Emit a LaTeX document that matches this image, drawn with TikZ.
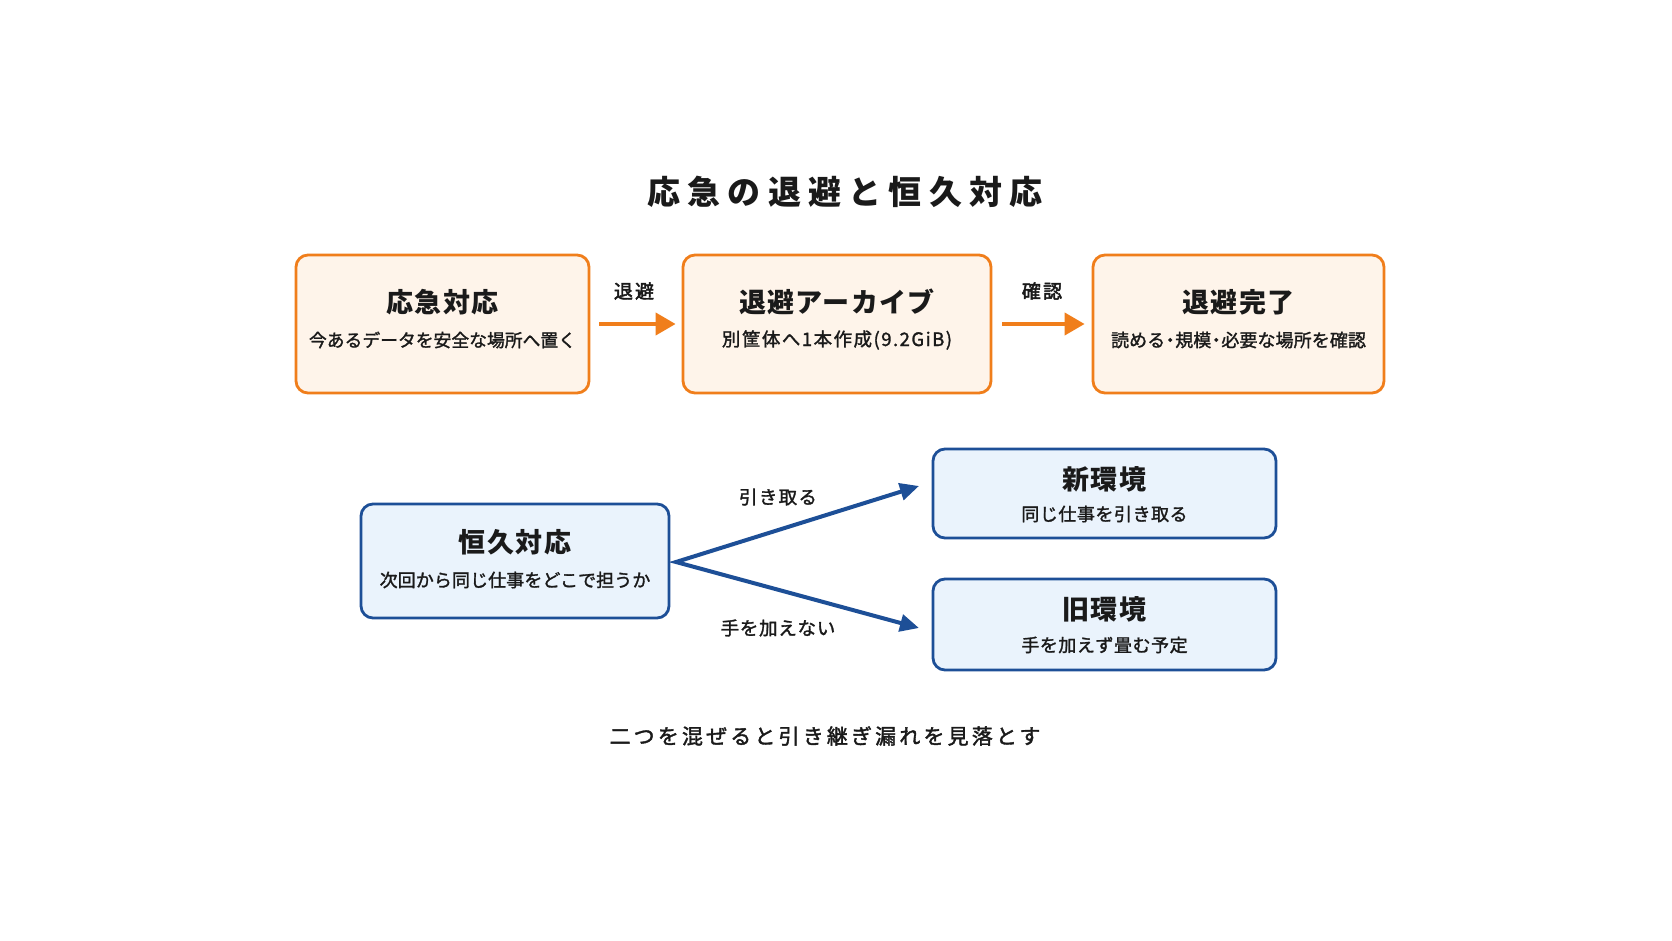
\documentclass[tikz,border=0pt]{standalone}
\usepackage{fontspec}
\setmainfont{Noto Sans CJK JP}
\usetikzlibrary{arrows.meta}
\definecolor{obord}{HTML}{F07E1B}
\definecolor{ofill}{HTML}{FEF4EA}
\definecolor{bbord}{HTML}{1D4F97}
\definecolor{bfill}{HTML}{EAF3FC}
\definecolor{txt}{HTML}{1A1A1A}
\newcommand{\ndot}{\hspace{-4pt}・\hspace{-4pt}}
\tikzset{
  obox/.style={draw=obord, fill=ofill, line width=2.8pt, rounded corners=12pt, inner sep=0pt},
  bbox/.style={draw=bbord, fill=bfill, line width=2.8pt, rounded corners=12pt, inner sep=0pt},
  ttl/.style={text=txt, font=\fontsize{27}{30}\selectfont\bfseries\addfontfeature{LetterSpace=5}, inner sep=0pt},
  sub/.style={text=txt, font=\fontsize{18}{20}\selectfont\addfontfeature{LetterSpace=0.5,FakeBold=1.6}, inner sep=0pt},
  lbl/.style={text=txt, font=\fontsize{19}{21}\selectfont\addfontfeature{LetterSpace=12,FakeBold=2.4}, inner sep=0pt},
  olink/.style={draw=obord, line width=4pt, -{Triangle[length=20pt,width=22pt]}},
  blink/.style={draw=bbord, line width=4pt, {Triangle[length=19pt,width=17pt]}-{Triangle[length=19pt,width=17pt]}},
}
\begin{document}
\begin{tikzpicture}[x=1pt,y=-1pt]
\useasboundingbox[fill=white] (0,0) rectangle (1672,941);
% title
\node[text=txt, font=\fontsize{33}{36}\selectfont\bfseries\addfontfeature{LetterSpace=22}, inner sep=0pt] (title) at (845,192) {応急の退避と恒久対応};
% top row
\node[obox, minimum width=293pt, minimum height=138pt] (b1) at (442.5,324) {};
\node[obox, minimum width=308pt, minimum height=138pt] (b2) at (837,324) {};
\node[obox, minimum width=291pt, minimum height=138pt] (b3) at (1238.5,324) {};
\node[ttl] (b1t) at (442.5,302) {応急対応};
\node[sub, font=\fontsize{17.8}{20}\selectfont\addfontfeature{LetterSpace=0,FakeBold=1.6}] (b1s) at (442.5,340) {今あるデータを安全な場所へ置く};
\node[ttl] (b2t) at (837,302) {退避アーカイブ};
\node[sub, font=\fontsize{18.5}{20}\selectfont\addfontfeature{LetterSpace=8,FakeBold=1.6}] (b2s) at (837,340) {別筐体へ1本作成(9.2GiB)};
\node[ttl] (b3t) at (1238.5,302) {退避完了};
\node[sub] (b3s) at (1238.5,340) {読める\ndot 規模\ndot 必要な場所を確認};
\draw[olink, shorten <=9pt, shorten >=6pt] (b1.east) -- (b2.west);
\draw[olink, shorten <=10pt, shorten >=7pt] (b2.east) -- (b3.west);
\node[lbl] (l1) at (634,291) {退避};
\node[lbl] (l2) at (1042,291) {確認};
% bottom part
\node[bbox, minimum width=308pt, minimum height=114pt] (b4) at (515,561) {};
\node[bbox, minimum width=343pt, minimum height=89pt] (b5) at (1104.5,493.5) {};
\node[bbox, minimum width=343pt, minimum height=91pt] (b6) at (1104.5,624.5) {};
\node[ttl] (b4t) at (515,542) {恒久対応};
\node[sub] (b4s) at (515,580) {次回から同じ仕事をどこで担うか};
\node[ttl] (b5t) at (1104.5,479) {新環境};
\node[sub, font=\fontsize{18}{20}\selectfont\addfontfeature{LetterSpace=3,FakeBold=1.6}] (b5s) at (1104.5,514) {同じ仕事を引き取る};
\node[ttl] (b6t) at (1104.5,609) {旧環境};
\node[sub, font=\fontsize{18}{20}\selectfont\addfontfeature{LetterSpace=3,FakeBold=1.6}] (b6s) at (1104.5,645) {手を加えず畳む予定};
\coordinate (apex) at (676,562);
\coordinate (upend) at (919,486);
\coordinate (downend) at (919,628);
\draw[blink, line join=miter] (upend) -- (apex) -- (downend);
\node[sub, font=\fontsize{18.5}{20}\selectfont\addfontfeature{LetterSpace=7,FakeBold=1.6}] (l3) at (778,497) {引き取る};
\node[sub, font=\fontsize{18.5}{20}\selectfont\addfontfeature{LetterSpace=4,FakeBold=1.6}] (l4) at (778,628) {手を加えない};
% bottom note
\node[text=txt, font=\fontsize{21}{24}\selectfont\addfontfeature{LetterSpace=15,FakeBold=1.8}, inner sep=0pt] (note) at (825,736) {二つを混ぜると引き継ぎ漏れを見落とす};
\end{tikzpicture}
\end{document}
